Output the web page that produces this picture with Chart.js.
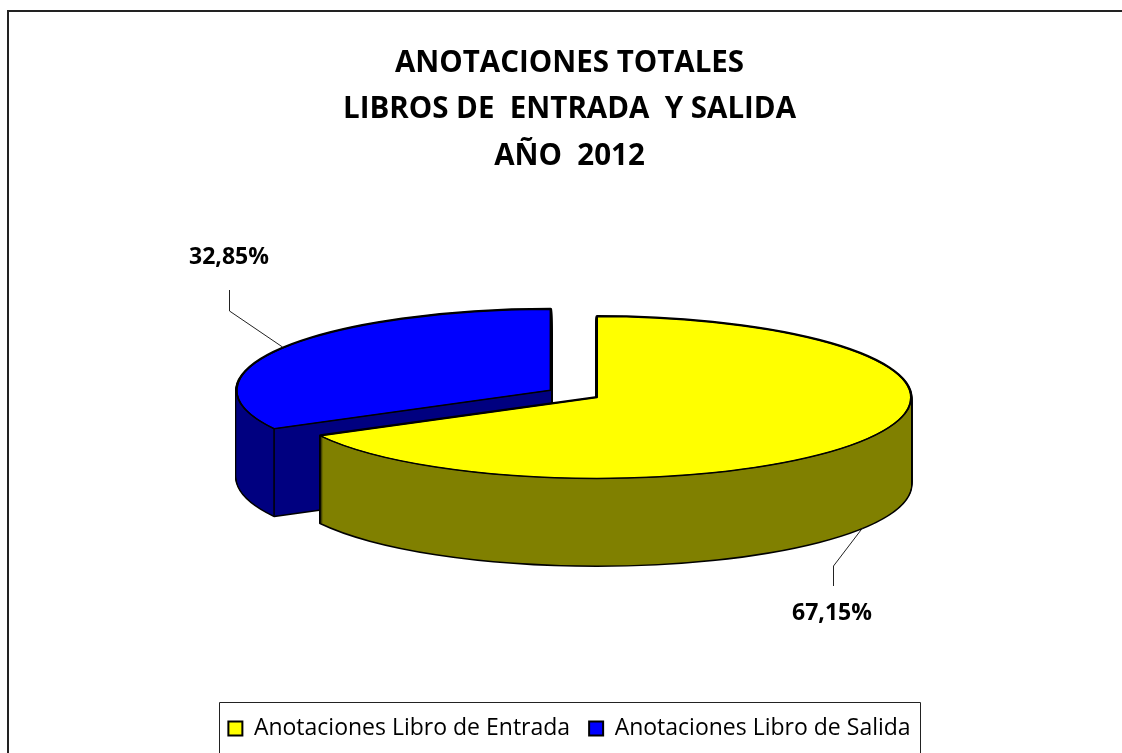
<!DOCTYPE html>
<html>
<head>
<meta charset="utf-8">
<title>Anotaciones totales</title>
<script src="https://cdn.jsdelivr.net/npm/chart.js@4"></script>
<style>
  html, body { margin: 0; padding: 0; background: #fff; overflow: hidden; }
  canvas { display: block; }
</style>
</head>
<body>
<canvas id="pie-chart" width="1122" height="753"></canvas>
<script>
// Chart data
const categories = ['Anotaciones Libro de Entrada', 'Anotaciones Libro de Salida'];
const percentages = [67.15, 32.85];
const titleLines = ['ANOTACIONES TOTALES', 'LIBROS DE  ENTRADA  Y SALIDA', 'AÑO  2012'];

// Slice colours
const topColors = ['#ffff00', '#0000ff'];
const sideColors = ['#808000', '#000080'];

// Fake 3D look
const pieRadius = 314;
const pieCenter = { x: 597, y: 397.5 };
const pieTilt = 0.258;
const pieDepth = 87;
const explode = [0, 54];

// Data label positions and leader lines
const labelSpots = [
  { x: 832, y: 613, line: [[833, 586], [833, 566], [862, 528]] },
  { x: 229, y: 257, line: [[229, 290], [229, 311], [282, 347]] }
];

// Format like 67,15%
function formatPercentage(value) {
  return value.toFixed(2).replace('.', ',') + '%';
}

// Move the context so a flat arc lands on the tilted pie
function applyPieTransform(ctx, arc, index, dy) {
  const mid = (arc.startAngle + arc.endAngle) / 2;
  ctx.translate(pieCenter.x, pieCenter.y + dy);
  ctx.scale(1, pieTilt);
  ctx.translate(-arc.x, -arc.y);
  ctx.translate(Math.cos(mid) * explode[index], Math.sin(mid) * explode[index]);
}

// The path is built tilted but stroked after restore, so the line width stays even
function traceSlice(ctx, arc, index, dy) {
  ctx.save();
  applyPieTransform(ctx, arc, index, dy);
  ctx.beginPath();
  ctx.moveTo(arc.x, arc.y);
  ctx.arc(arc.x, arc.y, arc.outerRadius, arc.startAngle, arc.endAngle);
  ctx.closePath();
  ctx.restore();
}

// Extruded side of one slice, outline first and fill on top of it
function drawSide(ctx, arc, index) {
  ctx.strokeStyle = '#000';
  ctx.lineWidth = 3;
  ctx.lineJoin = 'round';
  for (let dy = pieDepth; dy >= 0; dy--) {
    traceSlice(ctx, arc, index, dy);
    ctx.stroke();
  }
  ctx.fillStyle = sideColors[index];
  for (let dy = pieDepth; dy >= 0; dy--) {
    traceSlice(ctx, arc, index, dy);
    ctx.fill();
  }

  // Edge between the rim and the cut face
  const mid = (arc.startAngle + arc.endAngle) / 2;
  const ex = pieCenter.x + Math.cos(mid) * explode[index] + Math.cos(arc.startAngle) * arc.outerRadius;
  const ey = pieCenter.y + (Math.sin(mid) * explode[index] + Math.sin(arc.startAngle) * arc.outerRadius) * pieTilt;
  ctx.lineWidth = 1.5;
  ctx.beginPath();
  ctx.moveTo(ex, ey);
  ctx.lineTo(ex, ey + pieDepth);
  ctx.stroke();
}

const pie3dPlugin = {
  id: 'pie3d',
  beforeDraw(chart) {
    const ctx = chart.ctx;
    ctx.save();
    ctx.fillStyle = '#fff';
    ctx.fillRect(0, 0, chart.width, chart.height);

    // Outer frame, only top and left fall inside the picture
    ctx.strokeStyle = '#222';
    ctx.lineWidth = 2;
    ctx.beginPath();
    ctx.moveTo(chart.width, 11);
    ctx.lineTo(8, 11);
    ctx.lineTo(8, chart.height);
    ctx.stroke();

    // Legend frame
    ctx.lineWidth = 1;
    ctx.beginPath();
    ctx.moveTo(219.5, chart.height);
    ctx.lineTo(219.5, 702.5);
    ctx.lineTo(920.5, 702.5);
    ctx.lineTo(920.5, chart.height);
    ctx.stroke();
    ctx.restore();
  },
  beforeDatasetDraw(chart, args) {
    const ctx = chart.ctx;
    const arcs = args.meta.data;
    ctx.save();

    // Back slice first so the front slice covers it
    for (let i = arcs.length - 1; i >= 0; i--) {
      drawSide(ctx, arcs[i], i);
    }

    arcs.forEach((arc, i) => {
      ctx.save();
      applyPieTransform(ctx, arc, i, 0);
      arc.draw(ctx);
      ctx.restore();
      traceSlice(ctx, arc, i, 0);
      ctx.strokeStyle = '#000';
      ctx.lineWidth = 1.5;
      ctx.lineJoin = 'round';
      ctx.stroke();
    });

    ctx.restore();
    return false;
  },
  afterDraw(chart) {
    const ctx = chart.ctx;
    ctx.save();
    ctx.font = 'bold 23px "Open Sans"';
    ctx.textAlign = 'center';
    ctx.textBaseline = 'middle';
    labelSpots.forEach((spot, i) => {
      ctx.fillStyle = '#000';
      ctx.fillText(formatPercentage(percentages[i]), spot.x, spot.y);
      ctx.strokeStyle = '#222';
      ctx.lineWidth = 1;
      ctx.beginPath();
      spot.line.forEach(([x, y], n) => {
        if (n === 0) ctx.moveTo(x + 0.5, y);
        else ctx.lineTo(x + 0.5, y);
      });
      ctx.stroke();
    });
    ctx.restore();
  }
};

// Initialize chart
const ctx = document.getElementById('pie-chart').getContext('2d');
const pieChart = new Chart(ctx, {
  type: 'pie',
  data: {
    labels: categories,
    datasets: [{
      data: percentages,
      backgroundColor: topColors,
      borderColor: '#000',
      borderWidth: 2,
      clip: false
    }]
  },
  options: {
    responsive: false,
    animation: false,
    radius: pieRadius,
    layout: {
      padding: { left: 17, top: 40, right: 0, bottom: 3 }
    },
    plugins: {
      title: {
        display: true,
        text: titleLines,
        color: '#000',
        font: { family: '"Open Sans"', size: 29.5, weight: 'bold', lineHeight: 1.576 },
        padding: 0
      },
      legend: {
        position: 'bottom',
        labels: {
          color: '#000',
          font: { family: '"Open Sans"', size: 23 },
          boxWidth: 14,
          boxHeight: 14,
          padding: 19
        }
      },
      tooltip: { enabled: false }
    }
  },
  plugins: [pie3dPlugin]
});
</script>
</body>
</html>
